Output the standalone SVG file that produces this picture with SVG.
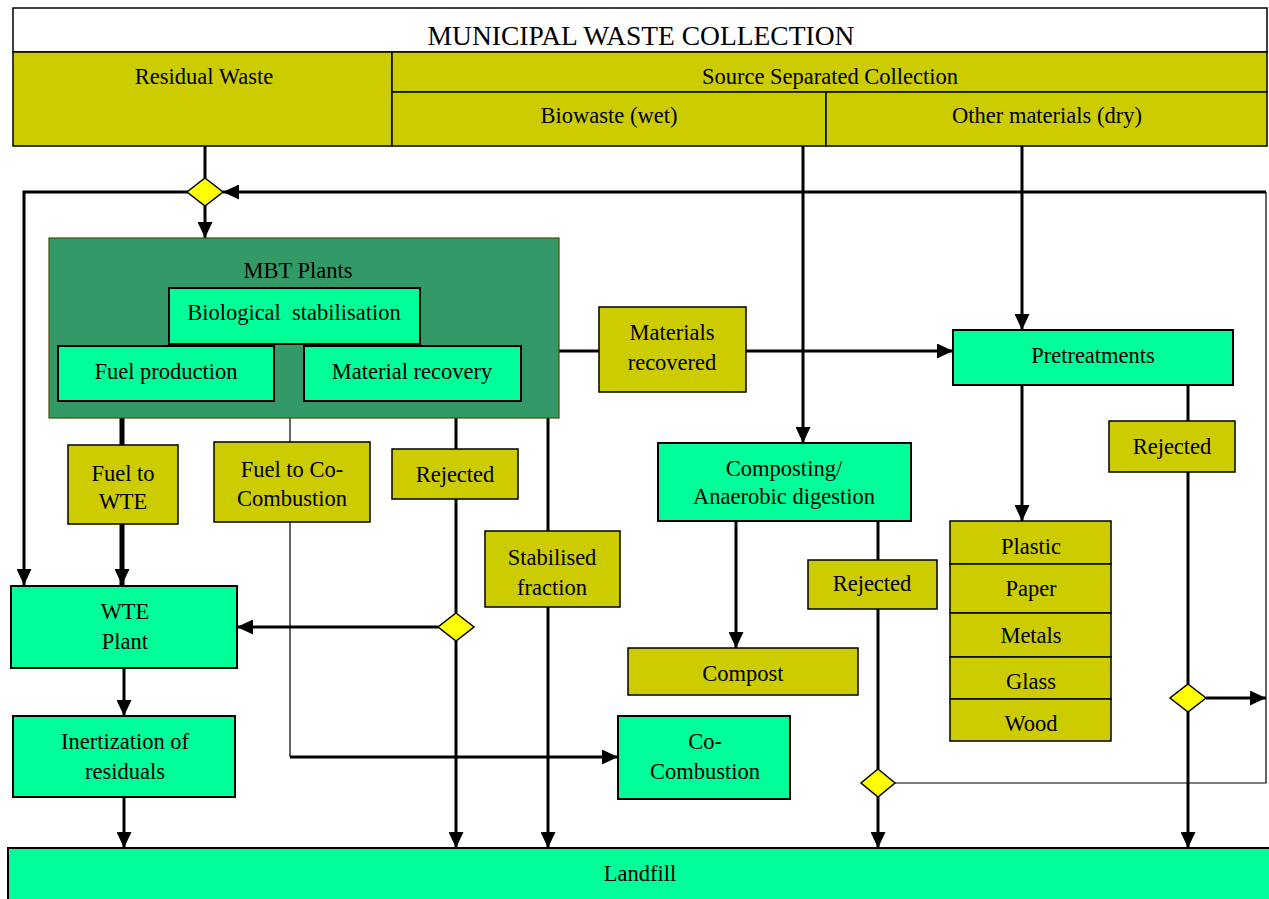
<svg xmlns="http://www.w3.org/2000/svg" width="1269" height="899" viewBox="0 0 1269 899">
<style>
text{font-family:"Liberation Serif","Times New Roman",serif;font-size:22.5px;fill:#000;text-anchor:middle;dominant-baseline:central}
.ol{fill:#CCCC00;stroke:#000;stroke-width:1.5}
.gr{fill:#00FF99;stroke:#000;stroke-width:2}
.dm{fill:#FFFF00;stroke:#000;stroke-width:1.5}
.ln{fill:none;stroke:#000;stroke-width:3}
.th{fill:none;stroke:#000;stroke-width:1.2}
.tk{fill:none;stroke:#000;stroke-width:5}
</style>
<defs>
<marker id="ar" markerUnits="userSpaceOnUse" markerWidth="17" markerHeight="15" refX="16" refY="7.5" orient="auto">
<path d="M0,0 L16,7.5 L0,15 z" fill="#000"/>
</marker>
</defs>
<rect width="1269" height="899" fill="#fff"/>

<g id="connectors">
<path class="ln" d="M205,146 V178"/>
<path class="ln" d="M205,206 V238" marker-end="url(#ar)"/>
<path class="ln" d="M188,192 H24 V585" marker-end="url(#ar)"/>
<path class="ln" d="M1266,192 H223" marker-end="url(#ar)"/>
<path class="th" d="M1266,192 V783 H895"/>
<path class="ln" d="M803,146 V443" marker-end="url(#ar)"/>
<path class="ln" d="M1022,146 V330" marker-end="url(#ar)"/>
<path class="tk" d="M122,418 V445"/>
<path class="tk" d="M122,524 V585" marker-end="url(#ar)"/>
<path class="th" d="M290,418 V442"/>
<path class="th" d="M290,522 V757"/>
<path class="ln" d="M290,757 H618" marker-end="url(#ar)"/>
<path class="ln" d="M456,418 V449"/>
<path class="ln" d="M456,499 V613"/>
<path class="ln" d="M456,641 V848" marker-end="url(#ar)"/>
<path class="ln" d="M438,627 H237" marker-end="url(#ar)"/>
<path class="ln" d="M548,418 V531"/>
<path class="ln" d="M548,607 V848" marker-end="url(#ar)"/>
<path class="ln" d="M559,351 H599"/>
<path class="ln" d="M746,351 H953" marker-end="url(#ar)"/>
<path class="ln" d="M1022,385 V521" marker-end="url(#ar)"/>
<path class="ln" d="M1188,385 V421"/>
<path class="ln" d="M1188,472 V684"/>
<path class="ln" d="M1188,712 V848" marker-end="url(#ar)"/>
<path class="ln" d="M1206,698 H1266" marker-end="url(#ar)"/>
<path class="ln" d="M736,521 V648" marker-end="url(#ar)"/>
<path class="ln" d="M878,521 V560"/>
<path class="ln" d="M878,609 V769"/>
<path class="ln" d="M878,797 V848" marker-end="url(#ar)"/>
<path class="ln" d="M124,668 V716" marker-end="url(#ar)"/>
<path class="ln" d="M124,797 V848" marker-end="url(#ar)"/>
</g>

<g id="title">
<rect x="13" y="8" width="1254" height="44" fill="#fff" stroke="#000" stroke-width="1.5"/>
<text x="641" y="35" style="font-size:27.5px">MUNICIPAL WASTE COLLECTION</text>
</g>
<g id="residual">
<rect class="ol" x="13" y="52" width="379" height="94"/>
<text x="204" y="76">Residual Waste</text>
</g>
<g id="source">
<rect class="ol" x="392" y="52" width="875" height="40"/>
<text x="830" y="76">Source Separated Collection</text>
</g>
<g id="biowaste">
<rect class="ol" x="392" y="92" width="434" height="54"/>
<text x="609" y="115">Biowaste (wet)</text>
</g>
<g id="other">
<rect class="ol" x="826" y="92" width="441" height="54"/>
<text x="1047" y="115">Other materials (dry)</text>
</g>

<g id="d1"><path class="dm" d="M205,178 L223,192 L205,206 L187,192 z"/></g>

<g id="mbt">
<rect x="49" y="238" width="510" height="180" fill="#339966" stroke="#4d4d00" stroke-width="1.2"/>
<text x="298" y="270">MBT Plants</text>
</g>
<g id="bio">
<rect class="gr" x="169" y="288" width="251" height="56"/>
<text x="294" y="312" xml:space="preserve">Biological  stabilisation</text>
</g>
<g id="fuelprod">
<rect class="gr" x="58" y="346" width="216" height="55"/>
<text x="166" y="371">Fuel production</text>
</g>
<g id="matrec">
<rect class="gr" x="304" y="346" width="217" height="55"/>
<text x="412" y="371">Material recovery</text>
</g>

<g id="matrecovered">
<rect class="ol" x="599" y="307" width="147" height="85"/>
<text x="672" y="332">Materials</text>
<text x="672" y="362">recovered</text>
</g>
<g id="pretreat">
<rect class="gr" x="953" y="330" width="280" height="55"/>
<text x="1093" y="355">Pretreatments</text>
</g>
<g id="rej3">
<rect class="ol" x="1109" y="421" width="126" height="51"/>
<text x="1172" y="446">Rejected</text>
</g>

<g id="fuelwte">
<rect class="ol" x="68" y="445" width="110" height="79"/>
<text x="123" y="473">Fuel to</text>
<text x="123" y="501">WTE</text>
</g>
<g id="fuelco">
<rect class="ol" x="214" y="442" width="156" height="80"/>
<text x="292" y="469">Fuel to Co-</text>
<text x="292" y="498">Combustion</text>
</g>
<g id="rej1">
<rect class="ol" x="392" y="449" width="126" height="50"/>
<text x="455" y="474">Rejected</text>
</g>
<g id="stab">
<rect class="ol" x="485" y="531" width="135" height="76"/>
<text x="552" y="557">Stabilised</text>
<text x="552" y="587">fraction</text>
</g>
<g id="compost">
<rect class="gr" x="658" y="443" width="253" height="78"/>
<text x="784" y="468">Composting/</text>
<text x="784" y="496">Anaerobic digestion</text>
</g>
<g id="rej2">
<rect class="ol" x="808" y="560" width="129" height="49"/>
<text x="872" y="583">Rejected</text>
</g>
<g id="compostout">
<rect class="ol" x="628" y="648" width="230" height="47"/>
<text x="743" y="673">Compost</text>
</g>
<g id="materials">
<rect class="ol" x="950" y="521" width="161" height="43"/>
<text x="1031" y="546">Plastic</text>
<rect class="ol" x="950" y="564" width="161" height="49"/>
<text x="1031" y="588">Paper</text>
<rect class="ol" x="950" y="613" width="161" height="44"/>
<text x="1031" y="635">Metals</text>
<rect class="ol" x="950" y="657" width="161" height="42"/>
<text x="1031" y="681">Glass</text>
<rect class="ol" x="950" y="699" width="161" height="42"/>
<text x="1031" y="723">Wood</text>
</g>

<g id="wte">
<rect class="gr" x="11" y="586" width="226" height="82"/>
<text x="125" y="611">WTE</text>
<text x="125" y="641">Plant</text>
</g>
<g id="inert">
<rect class="gr" x="13" y="716" width="222" height="81"/>
<text x="125" y="741">Inertization of</text>
<text x="125" y="771">residuals</text>
</g>
<g id="cocomb">
<rect class="gr" x="618" y="716" width="172" height="83"/>
<text x="705" y="741">Co-</text>
<text x="705" y="771">Combustion</text>
</g>

<g id="d2"><path class="dm" d="M456,613 L474,627 L456,641 L438,627 z"/></g>
<g id="d3"><path class="dm" d="M1188,684 L1206,698 L1188,712 L1170,698 z"/></g>
<g id="d4"><path class="dm" d="M878,769 L895,783 L878,797 L861,783 z"/></g>

<g id="landfill">
<rect class="gr" x="8" y="848" width="1262" height="60"/>
<text x="640" y="873">Landfill</text>
</g>
</svg>
